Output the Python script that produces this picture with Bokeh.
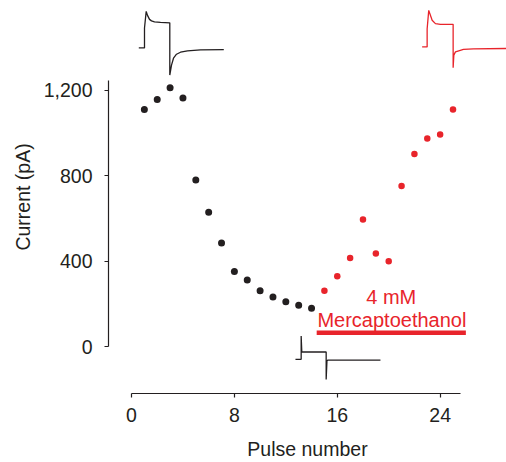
from bokeh.plotting import figure
from bokeh.models import FixedTicker, NumeralTickFormatter
from bokeh.core.properties import value
from bokeh.embed import file_html
from bokeh.resources import INLINE

# ---- data -------------------------------------------------------------
control_pulse = [1, 2, 3, 4, 5, 6, 7, 8, 9, 10, 11, 12, 13, 14]
control_current = [1110, 1157, 1212, 1164, 780, 629, 485, 352, 312, 262, 233, 211, 194, 180]

merc_pulse = [15, 16, 17, 18, 19, 20, 21, 22, 23, 24, 25]
merc_current = [262, 330, 415, 595, 436, 400, 752, 902, 974, 993, 1110]

x_ticks = [0, 8, 16, 24]
y_ticks = [0, 400, 800, 1200]

treatment_label = ["4 mM", "Mercaptoethanol"]
treatment_start = 14.4   # pulse number where mercaptoethanol was applied
treatment_end = 26.0

# example current traces (time in ms, current in arbitrary trace units)
trace_first_t = [0, 5.7, 5.7, 7.4, 8.7, 10.7, 12.7, 15.7, 21.7, 31, 31, 32.7, 34.7, 37.7, 41.7, 48.7, 61.7, 85]
trace_first_i = [0, 0, 20, 36.7, 32.7, 28.7, 27.2, 26.2, 25.7, 25.2, -27.3, -17.3, -10.3, -6.3, -4.3, -3, -2, -1.6]

trace_min_t = [0, 5.7, 5.7, 6.3, 6.6, 30.7, 30.7, 31.5, 32.5, 85]
trace_min_i = [0, 0, 23.4, 8, 7.4, 7.4, -20.3, -1.5, -0.7, -0.7]

trace_last_t = [0, 5, 5, 6.6, 10, 13.3, 18.3, 31, 31, 31.7, 33.3, 36.6, 41.3, 51.3, 84.3]
trace_last_i = [0, 0, 18, 36.7, 26.7, 23.4, 22.7, 22.7, -21, -8.3, -5, -4, -2.6, -2, -1.6]

# ---- style --------------------------------------------------------------
BLACK = "#231f20"
RED = "#e8242b"
FONT = "Liberation Sans"
FS = "19.5px"
FS_NOTE = "20px"

PX_X = 12.86    # screen px per pulse
PX_Y = 0.2148   # screen px per pA

p = figure(width=506, height=462, x_range=(-1.789, 29.16), y_range=(-218.8, 1620),
           min_border_left=108, min_border_right=0, min_border_top=0, min_border_bottom=67,
           output_backend="svg", toolbar_location=None)
p.outline_line_color = None
p.grid.visible = False
p.background_fill_color = "white"
p.border_fill_color = "white"

# axes
for ax in (p.xaxis, p.yaxis):
    ax.axis_line_color = BLACK
    ax.axis_line_width = 1.2
    ax.major_tick_line_color = BLACK
    ax.major_tick_line_width = 1.2
    ax.major_tick_in = 0
    ax.major_tick_out = 4
    ax.minor_tick_line_color = None
    ax.major_label_text_font = FONT
    ax.major_label_text_font_size = FS
    ax.major_label_text_color = BLACK
    ax.axis_label_text_font = FONT
    ax.axis_label_text_font_size = FS
    ax.axis_label_text_font_style = "normal"
    ax.axis_label_text_color = BLACK

p.xaxis.ticker = FixedTicker(ticks=x_ticks)
p.xaxis.bounds = (0, 25.6)
p.xaxis.axis_label = "Pulse number"
p.xaxis.major_label_standoff = 10
p.xaxis.axis_label_standoff = 13

p.yaxis.ticker = FixedTicker(ticks=y_ticks)
p.yaxis.formatter = NumeralTickFormatter(format="0,0")
p.yaxis.bounds = (0, 1248)
p.yaxis.axis_label = "Current (pA)"
p.yaxis.major_label_standoff = 12
p.yaxis.axis_label_standoff = 7

# points
p.scatter(control_pulse, control_current, size=7, color=BLACK, line_color=None)
p.scatter(merc_pulse, merc_current, size=6.5, color=RED, line_color=None)

# treatment annotation
p.text(x=[20.2, 20.25], y=[232, 126], text=treatment_label, text_font=value(FONT),
       text_font_size=FS_NOTE, text_color=RED, text_align="center", text_baseline="alphabetic")
p.segment(x0=[treatment_start], y0=[65], x1=[treatment_end], y1=[65], line_color=RED, line_width=4.5)

# example traces placed as insets
def place(ts, cs, x0, y0):
    return [x0 + t / PX_X for t in ts], [y0 + c / PX_Y for c in cs]

xs, ys = place(trace_first_t, trace_first_i, 0.567, 1398)
p.line(xs, ys, line_color=BLACK, line_width=1.3)
xs, ys = place(trace_min_t, trace_min_i, 12.75, -59)
p.line(xs, ys, line_color=BLACK, line_width=1.3)
xs, ys = place(trace_last_t, trace_last_i, 22.6, 1403)
p.line(xs, ys, line_color=RED, line_width=1.3)

open("out.html", "w").write(file_html(p, INLINE))
